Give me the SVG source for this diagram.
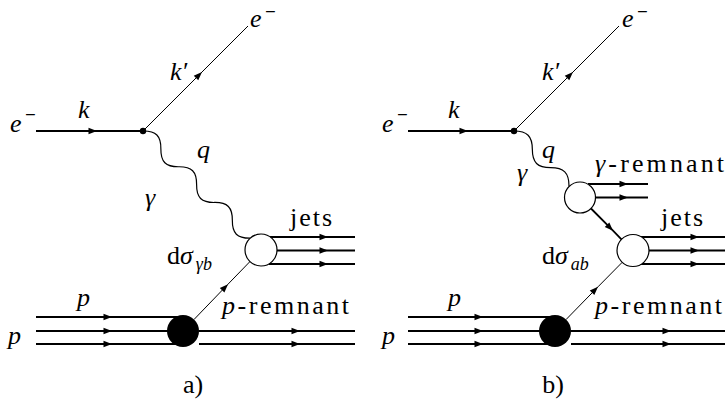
<svg xmlns="http://www.w3.org/2000/svg" width="725" height="403" viewBox="0 0 725 403">
<style>
.thick{fill:none;stroke:#000;stroke-width:2.2;marker-mid:url(#ar)}
.thin{fill:none;stroke:#000;stroke-width:1;marker-mid:url(#ar)}
.wave{fill:none;stroke:#000;stroke-width:1.2}
.open{fill:#fff;stroke:#000;stroke-width:1.2}
.blob{fill:#000}
.lab{font-size:26px;fill:#000}
.m{font-style:italic}
.sub{font-size:18px;font-style:italic}
.minus{font-size:19px;font-weight:bold;font-style:normal}
</style>
<defs>
<marker id="ar" markerUnits="userSpaceOnUse" markerWidth="12" markerHeight="8" viewBox="-10 -4 12 8" refX="0" refY="0" orient="auto"><path d="M0,0 L-8.5,-3.2 L-8.5,3.2 Z" fill="#000"/></marker>
</defs>

<g id="connectors">
  <path class="thick" d="M36,131 H97 H143"/>
  <path class="thin" d="M143,131 L202,72 L248,26"/>
  <g transform="translate(143,131) rotate(45)"><path class="wave" d="M0,0 C9.1,-9.33 16.17,-9.33 25.27,0 C34.37,9.33 41.44,9.33 50.54,0 C59.64,-9.33 66.71,-9.33 75.81,0 C84.91,9.33 91.98,9.33 101.08,0 C110.18,-9.33 117.25,-9.33 126.35,0 C135.45,9.33 142.52,9.33 151.62,0"/></g>
  <path class="thick" d="M270,237 H328 H355"/>
  <path class="thick" d="M277,250.5 H328 H355"/>
  <path class="thick" d="M269,264 H328 H355"/>
  <path class="thick" d="M36,317 H112 H183"/>
  <path class="thick" d="M36,331 H112 H183"/>
  <path class="thick" d="M36,344 H112 H183"/>
  <path class="thick" d="M199,331 H300 H355"/>
  <path class="thick" d="M199,344 H300 H355"/>
  <path class="thin" d="M194,319.5 L228,284.2 L250,261.5"/>
  <path class="thick" d="M408,131 H468 H514"/>
  <path class="thin" d="M514,131 L573,72 L619,26"/>
  <g transform="translate(514,131) rotate(45)"><path class="wave" d="M0,0 C9.33,-9.33 16.6,-9.33 25.93,0 C35.26,9.33 42.53,9.33 51.86,0 C61.19,-9.33 68.46,-9.33 77.8,0"/></g>
  <path class="thick" d="M588,184 H628 H648"/>
  <path class="thick" d="M595.5,197.5 H628 H648"/>
  <path class="thick" style="stroke-width:1.8" d="M591,208.5 L613,230.7 L621.7,239.6"/>
  <path class="thick" d="M641,237 H699 H725"/>
  <path class="thick" d="M648.5,250.5 H699 H725"/>
  <path class="thick" d="M640,264 H699 H725"/>
  <path class="thick" d="M408,317 H483 H555"/>
  <path class="thick" d="M408,331 H483 H555"/>
  <path class="thick" d="M408,344 H483 H555"/>
  <path class="thick" d="M571,331 H671 H725"/>
  <path class="thick" d="M571,344 H671 H725"/>
  <path class="thin" d="M566,319.6 L598,286.8 L622,262.5"/>
</g>

<g id="a-vertex"><circle cx="143" cy="131" r="3.2" fill="#000"/></g>
<g id="a-hard"><circle class="open" cx="261" cy="250" r="16"/></g>
<g id="a-proton"><circle class="blob" cx="183" cy="331" r="16"/></g>

<g id="b-vertex"><circle cx="514" cy="131" r="3.2" fill="#000"/></g>
<g id="b-photon-blob"><circle class="open" cx="580" cy="197.5" r="15.5"/></g>
<g id="b-hard"><circle class="open" cx="633" cy="250.5" r="16"/></g>
<g id="b-proton"><circle class="blob" cx="555" cy="331" r="16"/></g>

<g id="labels-a" class="lab" font-family="Liberation Serif, Times New Roman, DejaVu Serif, serif">
  <text x="10" y="132" class="m">e<tspan class="minus" x="25" y="121">−</tspan></text>
  <text x="250" y="27" class="m">e<tspan class="minus" x="265" y="18">−</tspan></text>
  <text x="78" y="118" class="m">k</text>
  <text x="170" y="80" class="m">k′</text>
  <text x="197" y="158" class="m">q</text>
  <text x="145" y="206" class="m">γ</text>
  <text x="290" y="226" textLength="42" lengthAdjust="spacing">jets</text>
  <text x="167" y="264">d<tspan class="m">σ</tspan><tspan class="sub" dx="3" dy="6">γb</tspan></text>
  <text x="77" y="306" class="m">p</text>
  <text x="8" y="344" class="m">p</text>
  <text x="222" y="314" textLength="127" lengthAdjust="spacing"><tspan class="m">p</tspan>-remnant</text>
  <text x="193" y="393" text-anchor="middle">a)</text>
</g>

<g id="labels-b" class="lab" font-family="Liberation Serif, Times New Roman, DejaVu Serif, serif">
  <text x="382" y="132" class="m">e<tspan class="minus" x="397" y="121">−</tspan></text>
  <text x="622" y="27" class="m">e<tspan class="minus" x="637" y="18">−</tspan></text>
  <text x="448" y="118" class="m">k</text>
  <text x="542" y="80" class="m">k′</text>
  <text x="542" y="158" class="m">q</text>
  <text x="517" y="181" class="m">γ</text>
  <text x="595" y="172" textLength="129" lengthAdjust="spacing"><tspan class="m">γ</tspan>-remnant</text>
  <text x="661" y="226" textLength="42" lengthAdjust="spacing">jets</text>
  <text x="542" y="264">d<tspan class="m">σ</tspan><tspan class="sub" dx="3" dy="6">ab</tspan></text>
  <text x="448" y="306" class="m">p</text>
  <text x="382" y="344" class="m">p</text>
  <text x="595" y="314" textLength="127" lengthAdjust="spacing"><tspan class="m">p</tspan>-remnant</text>
  <text x="553" y="393" text-anchor="middle">b)</text>
</g>
</svg>
